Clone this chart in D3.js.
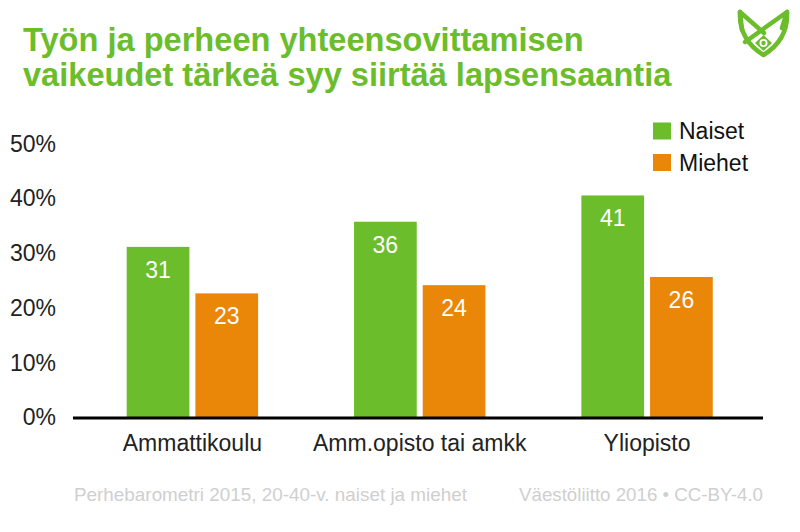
<!DOCTYPE html>
<html><head><meta charset="utf-8">
<script src="https://cdn.jsdelivr.net/npm/d3@7"></script>
<style>body{margin:0;background:#fff}svg{display:block}text{font-family:"Liberation Sans",Arial,sans-serif}</style>
</head><body><svg id="c" width="800" height="532"></svg>
<script>
const categories = ["Ammattikoulu", "Amm.opisto tai amkk", "Yliopisto"];
const seriesNames = ["Naiset", "Miehet"];
const naiset = [31.1, 35.7, 40.5];
const miehet = [22.6, 24.1, 25.6];
const yTicks = [0, 10, 20, 30, 40, 50];
const titleLines = ["Työn ja perheen yhteensovittamisen", "vaikeudet tärkeä syy siirtää lapsensaantia"];
const footerLeft = "Perhebarometri 2015, 20-40-v. naiset ja miehet";
const footerRight = "Väestöliitto 2016 • CC-BY-4.0";

const GREEN = "#6cbd2c", ORANGE = "#ea8608";
const colors = [GREEN, ORANGE];
const svg = d3.select("#c");

const y = d3.scaleLinear().domain([0, 50]).range([417, 143.5]);
const x0 = d3.scaleBand().domain(categories).range([78, 760]).paddingInner(0).paddingOuter(0);
const x1 = d3.scaleBand().domain(seriesNames).range([48.7, 48.7 + 131.4]).paddingInner(0.087);

// title
svg.append("g").selectAll("text").data(titleLines).join("text")
  .attr("x", 23).attr("y", (d, i) => 51 + i * 34.5)
  .attr("fill", GREEN).attr("font-size", 32.6).attr("font-weight", "bold").text(d => d);

// y axis labels
svg.append("g").selectAll("text").data(yTicks).join("text")
  .attr("x", 56).attr("y", d => y(d)).attr("dy", "0.36em")
  .attr("text-anchor", "end").attr("font-size", 23).attr("fill", "#222")
  .text(d => d + "%");

const data = categories.map((c, i) => ({cat: c, vals: [naiset[i], miehet[i]]}));
const g = svg.append("g").selectAll("g").data(data).join("g")
  .attr("transform", d => `translate(${x0(d.cat)},0)`);
g.selectAll("rect").data(d => d.vals.map((v, j) => ({v, s: seriesNames[j], j}))).join("rect")
  .attr("x", d => x1(d.s)).attr("width", x1.bandwidth())
  .attr("y", d => y(d.v)).attr("height", d => y(0) - y(d.v))
  .attr("fill", d => colors[d.j]);
g.selectAll("text.v").data(d => d.vals.map((v, j) => ({v, s: seriesNames[j]}))).join("text")
  .attr("class", "v")
  .attr("x", d => x1(d.s) + x1.bandwidth() / 2).attr("y", d => y(d.v) + 31)
  .attr("text-anchor", "middle").attr("fill", "#fff").attr("font-size", 23)
  .text(d => Math.round(d.v));

// baseline
svg.append("line").attr("x1", 73).attr("x2", 763).attr("y1", y(0) + 1).attr("y2", y(0) + 1)
  .attr("stroke", "#000").attr("stroke-width", 3);

// category labels
svg.append("g").selectAll("text").data(categories).join("text")
  .attr("x", d => x0(d) + x1(seriesNames[0]) + 131.4 / 2).attr("y", 451)
  .attr("text-anchor", "middle").attr("font-size", 23).attr("fill", "#222").text(d => d);

// legend
const lg = svg.append("g").selectAll("g").data(seriesNames).join("g")
  .attr("transform", (d, i) => `translate(653,${122.5 + i * 31.5})`);
lg.append("rect").attr("width", 18).attr("height", 17).attr("fill", (d, i) => colors[i]);
lg.append("text").attr("x", 26).attr("y", 8.5).attr("dy", "0.36em")
  .attr("font-size", 23).attr("fill", "#111").text(d => d);

// footer
svg.append("text").attr("x", 74).attr("y", 501).attr("font-size", 18.5).attr("fill", "#cfcfcf")
  .attr("textLength", 393).attr("lengthAdjust", "spacingAndGlyphs").text(footerLeft);
svg.append("text").attr("x", 763).attr("y", 501).attr("font-size", 18.5).attr("fill", "#cfcfcf")
  .attr("text-anchor", "end").attr("textLength", 244).attr("lengthAdjust", "spacingAndGlyphs").text(footerRight);

// logo
const lo = svg.append("g").attr("fill", "none").attr("stroke", GREEN).attr("stroke-width", 4.5)
  .attr("stroke-linejoin", "round").attr("stroke-linecap", "round");
lo.append("path").attr("d", "M740,12 C739,32 749,46 763.5,55 C778,46 788,32 787,12");
lo.append("path").attr("d", "M740,12 L764,33 M745,42 L787,12 M740,12 L742,30 M787,12 L782,28");
lo.append("path").attr("d", "M755,43 L763.5,35 L772,43 L763.5,51 Z").attr("fill", GREEN).attr("stroke", "none");
lo.append("circle").attr("cx", 763.5).attr("cy", 43).attr("r", 4).attr("fill", "#fff").attr("stroke", "none");
lo.append("circle").attr("cx", 763.5).attr("cy", 43).attr("r", 2.2).attr("fill", GREEN).attr("stroke", "none");
</script></body></html>
